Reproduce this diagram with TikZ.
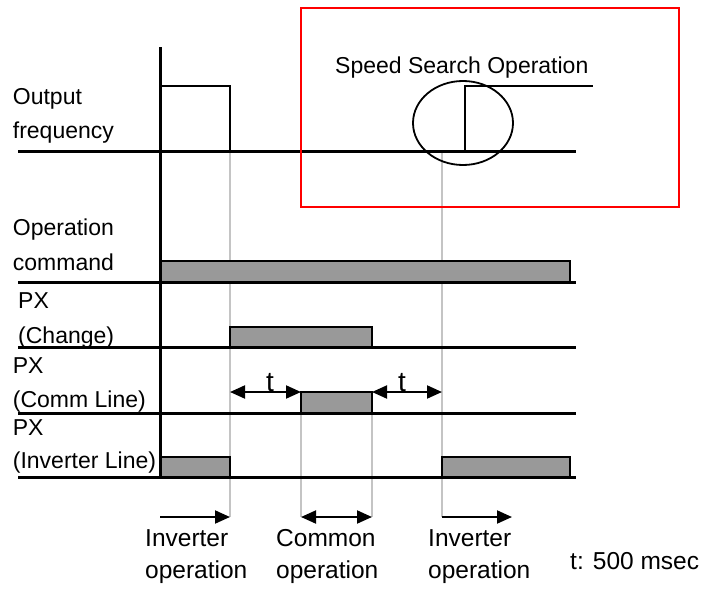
\documentclass[tikz,border=0pt]{standalone}
\usepackage{fontspec}
\setmainfont{Liberation Sans}
\usepackage{tikz}
\usetikzlibrary{arrows.meta}
\definecolor{barfill}{HTML}{999999}
\definecolor{guidegray}{HTML}{C4C4C4}
\definecolor{boxred}{HTML}{FF0000}
\tikzstyle{lbl} = [anchor=base west, inner sep=0pt, font=\fontsize{23}{28}\selectfont]
\tikzstyle{oplbl} = [anchor=base west, inner sep=0pt, font=\fontsize{24.5}{29}\selectfont]
\tikzstyle{tlbl} = [anchor=base, inner sep=0pt, font=\fontsize{28}{32}\selectfont]
\tikzstyle{level} = [line width=3pt]
\tikzstyle{guide} = [draw=guidegray, line width=1.3pt]
\tikzstyle{bar} = [draw=black, fill=barfill, line width=1.5pt]
\tikzstyle{trace} = [line width=1.8pt]
\tikzstyle{arrow} = [line width=2pt,-{Triangle[length=15pt,width=13pt]}]
\tikzstyle{twoway} = [line width=2pt,{Triangle[length=15pt,width=13pt]}-{Triangle[length=15pt,width=13pt]}]

\begin{document}
\begin{tikzpicture}[x=1pt,y=-1pt]
						\useasboundingbox (0,0) rectangle (704,589);
						\coordinate (c1) at (230,392);
						\coordinate (c2) at (301,392);
						\coordinate (c3) at (372,392);
						\coordinate (c4) at (442,392);
						\coordinate (b0) at (160,517);
						\coordinate (b1) at (230,517);
						\coordinate (b2) at (301,517);
						\coordinate (b3) at (372,517);
						\coordinate (b4) at (442,517);
						\coordinate (b5) at (512,517);
						\foreach \x/\y in {230/151,301/413,372/413,442/151}
							\draw[guide] (\x,\y) -- (\x,517);
						\draw[bar] (160,261) rectangle (570,282);
						\draw[bar] (230,327) rectangle (372,347);
						\draw[bar] (301,392) rectangle (372,413);
						\draw[bar] (160,457) rectangle (230,477);
						\draw[bar] (442,457) rectangle (570,477);
						\foreach \y in {151,282,347,413,477}
							\draw[level] (18,\y) -- (576,\y);
						\draw[level] (160,47) -- (160,477);
						\draw[trace] (160,151) -- (160,86) -- (230,86) -- (230,151);
						\draw[trace] (465,151) -- (465,86) -- (593,86);
						\draw[trace] (463,123) ellipse [x radius=50pt, y radius=42pt];
						\draw[boxred, line width=2pt] (301,8) rectangle (679,207);
						\node (out1) at (12.7,104) [lbl] {Output};
						\node (out2) at (12.7,138) [lbl] {frequency};
						\node (cmd1) at (12.7,235) [lbl] {Operation};
						\node (cmd2) at (12.7,270) [lbl] {command};
						\node (chg1) at (18,308) [lbl] {PX};
						\node (chg2) at (18,343) [lbl] {(Change)};
						\node (com1) at (12.7,373) [lbl] {PX};
						\node (com2) at (12.7,407) [lbl] {(Comm Line)};
						\node (inv1) at (12.7,435) [lbl] {PX};
						\node (inv2) at (12.7,468) [lbl] {(Inverter Line)};
						\node (ssop) at (335,73) [lbl] {Speed Search Operation};
						\node (t1) at (270,391) [tlbl] {t};
						\node (t2) at (402,391) [tlbl] {t};
						\draw[twoway] (c1) -- (c2);
						\draw[twoway] (c3) -- (c4);
						\draw[arrow] (b0) -- (b1);
						\draw[twoway] (b2) -- (b3);
						\draw[arrow] (b4) -- (b5);
						\node (op1a) at (145,546) [oplbl] {Inverter};
						\node (op1b) at (145,578) [oplbl] {operation};
						\node (op2a) at (276,546) [oplbl] {Common};
						\node (op2b) at (276,578) [oplbl] {operation};
						\node (op3a) at (428,546) [oplbl] {Inverter};
						\node (op3b) at (428,578) [oplbl] {operation};
						\node (note) at (570,569) [oplbl] {t: 500 msec};
					\end{tikzpicture}
\end{document}
